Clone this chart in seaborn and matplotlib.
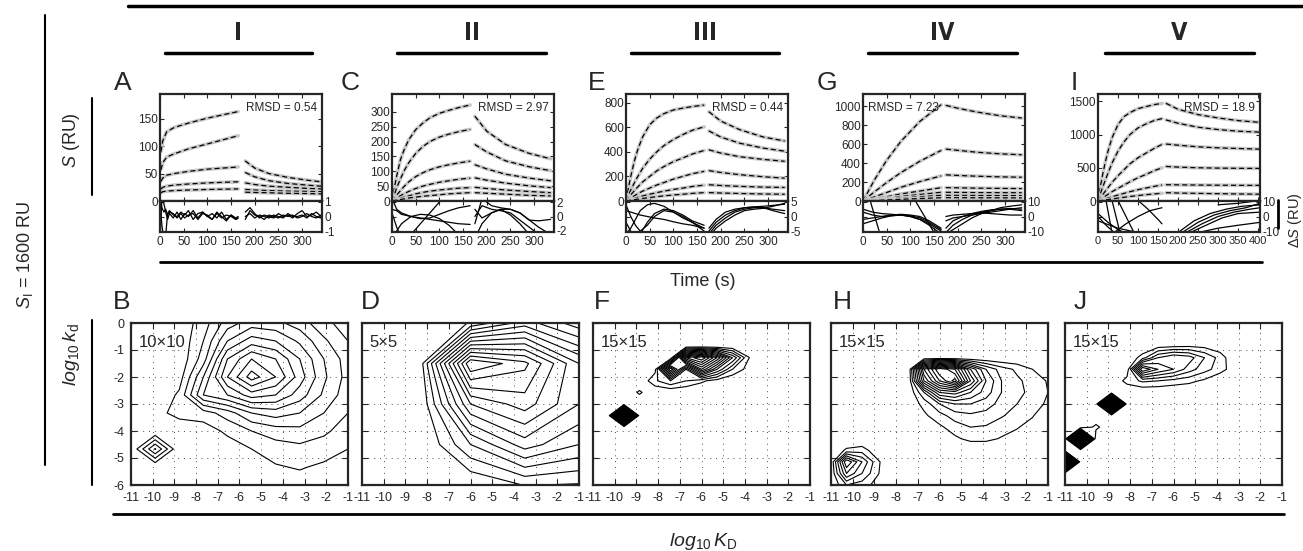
import matplotlib
matplotlib.use("Agg")
import matplotlib.pyplot as plt
import numpy as np
import seaborn as sns

W, H = 1303, 551

# ---------------- sensorgrams (RU), association then dissociation ----------------
A_t_on = [2, 6, 14, 30, 60, 100, 165]
A_on = [[90, 110, 126, 134, 142, 151, 163],
        [57, 70, 80, 86, 95, 104, 119],
        [36, 42, 47, 50, 54, 58, 62],
        [22, 25, 27, 29, 31, 33, 35],
        [15, 17, 18, 19, 20, 21, 22]]
A_t_off = [180, 200, 230, 270, 310, 340]
A_off = [[73, 60, 50, 43, 38, 35],
         [52, 44, 37, 32, 29, 27],
         [33, 30, 27, 25, 23, 22],
         [21, 20, 19, 18, 17.5, 17],
         [16, 15.5, 15, 14, 13.5, 13]]

C_t_on = [0, 5, 10, 18, 25, 35, 50, 65, 80, 100, 120, 140, 165]
C_on = [[0, 45, 85, 140, 170, 205, 240, 262, 280, 295, 305, 314, 323],
        [0, 22, 45, 75, 100, 128, 160, 183, 200, 215, 225, 233, 241],
        [0, 10, 20, 35, 48, 64, 82, 95, 105, 115, 122, 128, 134],
        [0, 5, 10, 18, 24, 32, 42, 50, 56, 63, 68, 73, 77],
        [0, 2.5, 5, 9, 13, 17, 24, 29, 33, 37, 40, 43, 45],
        [0, 1.5, 3, 5, 7, 10, 13, 16, 18, 21, 24, 26, 28]]
C_t_off = [175, 200, 240, 290, 335]
C_off = [[285, 235, 190, 160, 142],
         [190, 165, 135, 115, 102],
         [122, 108, 90, 77, 68],
         [78, 70, 60, 51, 45],
         [46, 42, 37, 32, 28],
         [28, 26, 23, 19, 17]]

E_t_on = [0, 5, 10, 18, 25, 35, 50, 65, 80, 100, 120, 140, 165]
E_on = [[0, 105, 200, 330, 420, 520, 620, 675, 710, 740, 755, 768, 780],
        [0, 45, 90, 150, 200, 265, 340, 400, 450, 500, 540, 575, 603],
        [0, 25, 50, 85, 115, 155, 200, 245, 280, 320, 350, 382, 411],
        [0, 12, 25, 43, 60, 80, 105, 130, 150, 178, 200, 222, 241],
        [0, 6, 12, 21, 30, 41, 55, 68, 80, 94, 105, 118, 129],
        [0, 3, 6, 11, 15, 21, 28, 35, 42, 49, 55, 62, 68]]
E_t_off = [175, 200, 240, 290, 335]
E_off = [[726, 650, 580, 520, 488],
         [570, 520, 470, 430, 405],
         [416, 390, 360, 338, 323],
         [247, 232, 214, 197, 186],
         [132, 126, 119, 113, 110],
         [68, 65, 61, 57, 55]]

G_t_on = [0, 25, 50, 80, 120, 165]
G_on = [[0, 230, 430, 630, 840, 1017],
        [0, 100, 195, 300, 420, 534],
        [0, 45, 90, 145, 205, 265],
        [0, 22, 45, 75, 105, 141],
        [0, 14, 29, 48, 69, 92],
        [0, 9, 19, 31, 45, 60],
        [0, 5, 11, 18, 26, 35]]
G_t_off = [175, 200, 240, 290, 335]
G_off = [[1010, 980, 940, 900, 876],
         [548, 535, 515, 498, 488],
         [276, 270, 262, 255, 251],
         [141, 139, 136, 133, 131],
         [92, 91, 89, 88, 87],
         [60, 59, 58, 57, 57],
         [35, 35, 34, 34, 33]]

I_t_on = [0, 5, 10, 18, 25, 35, 50, 65, 80, 100, 120, 140, 160]
I_on = [[0, 180, 350, 580, 750, 950, 1150, 1270, 1330, 1390, 1420, 1450, 1469],
        [0, 90, 180, 310, 420, 570, 750, 890, 1000, 1100, 1160, 1210, 1240],
        [0, 40, 80, 145, 200, 280, 380, 470, 560, 650, 720, 790, 852],
        [0, 20, 40, 72, 100, 140, 190, 240, 290, 350, 400, 455, 500],
        [0, 9, 18, 32, 45, 63, 90, 115, 140, 170, 195, 220, 240],
        [0, 4, 8, 15, 22, 31, 44, 56, 68, 82, 95, 106, 117]]
I_t_off = [170, 200, 250, 300, 350, 405]
I_off = [[1470, 1380, 1300, 1250, 1210, 1183],
         [1220, 1170, 1110, 1075, 1050, 1036],
         [857, 840, 815, 800, 790, 780],
         [520, 510, 500, 495, 492, 490],
         [245, 243, 240, 238, 236, 235],
         [125, 120, 115, 110, 106, 102]]

# ---------------- residuals (RU) ----------------
A_res_t_on = [0, 4, 8, 12, 16, 20, 28, 36, 44, 52, 60, 70, 80, 90, 100, 110, 120, 130, 140, 150, 160, 165]
A_res_on = [[-1.5, 1.2, 0.9, 0.3, -0.2, 0.2, -0.1, 0.3, -0.2, 0.2, 0.0, 0.4, -0.1, 0.3, 0.0, -0.2, 0.3, 0.0, -0.3, 0.1, -0.2, -0.1],
            [0.9, -0.6, -1.5, -1.3, 0.2, 0.4, 0.1, 0.0, 0.3, 0.1, 0.4, -0.2, 0.2, 0.3, 0.0, 0.2, -0.1, 0.3, -0.2, 0.1, -0.1, 0.0],
            [1.2, 0.6, 0.3, 0.5, 0.1, 0.3, 0.2, -0.1, 0.2, -0.1, 0.1, 0.2, -0.2, 0.2, 0.1, -0.2, 0.2, -0.1, 0.1, 0.0, -0.2, -0.1]]
A_res_t_off = [180, 190, 200, 210, 220, 230, 240, 250, 260, 270, 280, 290, 300, 310, 320, 330, 340]
A_res_off = [[0.3, 0.6, 0.2, -0.1, 0.1, 0.0, -0.1, 0.2, 0.0, 0.1, -0.1, 0.2, 0.4, 0.0, 0.1, 0.3, 0.0],
             [-0.2, 0.4, 0.1, 0.0, -0.2, 0.1, 0.0, -0.1, 0.1, 0.0, 0.1, -0.1, 0.0, 0.2, 0.0, -0.1, 0.1],
             [0.0, 0.2, -0.1, 0.1, 0.0, -0.1, 0.1, 0.0, -0.1, 0.2, 0.0, 0.0, 0.1, -0.1, 0.2, 0.0, -0.1]]

C_res_t_on = [0, 10, 20, 40, 60, 80, 100, 120, 140, 165]
C_res_on = [[2.5, 1.0, 0.5, 0.0, -0.3, -0.2, 0.3, 0.8, 1.2, 1.5],
            [1.0, 0.8, 0.3, 0.0, -0.2, -0.4, -0.6, -0.8, -1.0, -1.1],
            [-3.0, -2.0, -1.0, 0.0, 0.3, 0.2, -0.3, -1.2, -2.5, -3.5],
            [0.5, -1.5, -3.0, -2.5, -1.0, 0.5, 2.0, 3.0, 3.0, 3.0]]
C_res_t_off = [175, 190, 210, 230, 250, 270, 290, 310, 335]
C_res_off = [[-1.0, 2.5, 1.5, 1.2, 1.0, 0.5, -0.5, -1.5, -2.5],
             [0.0, 1.5, 1.0, 0.8, 0.5, -0.5, -1.5, -2.5, -3.0],
             [-3.0, -1.0, 0.5, 1.0, 0.2, -1.0, -2.5, -3.5, -4.0],
             [1.0, -0.2, 0.5, 1.0, 1.0, 0.5, -0.5, -0.6, -0.4]]

E_res_t_on = [0, 10, 20, 30, 45, 60, 80, 100, 120, 140, 165]
E_res_on = [[2.0, 1.5, 1.0, 0.5, 0.0, -0.5, -1.0, -1.8, -2.5, -3.0, -4.0],
            [-6.0, -4.0, -1.0, 2.0, 4.0, 4.5, 3.5, 1.5, -0.5, -2.0, -4.0],
            [4.0, 0.0, -3.0, -5.0, -3.0, 0.0, 2.0, 1.5, 0.0, -2.0, -5.0],
            [-2.0, -5.0, -7.0, -6.0, -2.0, 1.0, 2.5, 2.0, 0.5, -1.5, -3.0]]
E_res_t_off = [175, 190, 210, 230, 250, 270, 290, 310, 335]
E_res_off = [[-5.0, -2.0, 0.5, 2.0, 3.0, 3.3, 3.5, 3.8, 4.2],
             [-6.0, -3.0, -0.5, 1.5, 2.5, 3.0, 3.0, 2.5, 2.0],
             [-4.0, -1.0, 1.5, 2.5, 3.0, 3.2, 3.0, 2.0, 1.0],
             [-7.0, -4.0, -1.5, 0.5, 2.0, 2.5, 2.8, 3.5, 4.5]]

G_res = [([0, 20, 40, 60, 80, 100, 120, 140, 165], [5, 3, 2, 1.5, 1, 0, -2, -5, -10]),
         ([0, 20, 40, 60, 80, 100, 120, 140, 165], [3, 1, 0, 0.5, 1, 0.5, -1, -4, -9]),
         ([0, 20, 40, 60, 80, 100, 120, 140, 165], [-2, -1, 0, 1, 1.5, 1, 0, -3, -8]),
         ([0, 20, 40, 60, 80, 100, 120, 140, 165], [-5, -3, -1, 0.5, 1, 0, -2, -6, -12]),
         ([15, 35], [11, -11]),
         ([110, 150], [11, -11]),
         ([175, 190, 210, 230, 250, 270, 290, 310, 335], [-11, -6, -2, 1, 3, 4, 5, 5, 4]),
         ([175, 190, 210, 230, 250, 270, 290, 310, 335], [-8, -3, 0, 2, 3.5, 4.5, 5, 5.5, 5]),
         ([175, 190, 210, 230, 250, 270, 290, 310, 335], [-12, -9, -5, -1, 2, 4, 6, 7, 8]),
         ([175, 190, 210, 230, 250, 270, 290, 310, 335], [0, 1, 1.5, 2, 2.5, 2, 1.5, 1, 1]),
         ([175, 190, 210, 230, 250, 270, 290, 310, 335], [-3, -1, 0, 1, 2, 3, 4, 5, 6])]

I_res = [([0, 25, 50, 75], [2, -4, -9, -12]),
         ([0, 20, 45], [0, -6, -12]),
         ([20, 35], [11, -11]),
         ([35, 55], [11, -11]),
         ([50, 70, 90], [11, 0, -11]),
         ([40, 70, 100, 130, 160], [-11, -5, 0, 4, 6]),
         ([100, 125, 150, 160], [11, 5, -2, -5]),
         ([0, 50, 100], [-3, -8, -11]),
         ([200, 240, 280, 320, 360, 405], [-11, -3, 2, 5, 7, 8]),
         ([210, 250, 290, 330, 370, 405], [-11, -4, 1, 4, 6, 9]),
         ([220, 260, 300, 340, 380, 405], [-11, -5, 0, 3, 5, 6]),
         ([230, 270, 310, 350, 405], [-11, -6, -1, 2, 3]),
         ([250, 300, 350, 405], [-11, -8, -6, -4]),
         ([300, 350, 405], [8, 9, 11])]

RMSD = ["RMSD = 0.54", "RMSD = 2.97", "RMSD = 0.44", "RMSD = 7.23", "RMSD = 18.9"]

# ---------------- likelihood landscapes ----------------
B_Z = [[0, 0, 0.3, 1.5, 3.5, 4.5, 4.3, 3.5, 2.3, 1.5],
       [0, 0, 0.2, 2.0, 5.0, 6.5, 6.0, 4.8, 3.2, 2.0],
       [0, 0, 0.2, 2.5, 7.0, 9.0, 8.0, 6.0, 4.0, 2.5],
       [0, 0, 0.5, 4.0, 8.0, 10.5, 9.0, 6.5, 4.2, 2.6],
       [0, 0, 1.2, 5.0, 6.0, 7.5, 7.0, 5.5, 3.8, 2.4],
       [0, 0.5, 1.5, 1.5, 2.5, 4.0, 4.5, 4.0, 3.0, 2.0],
       [0, 0, 0, 0.5, 1.2, 2.0, 2.5, 2.7, 2.2, 1.5],
       [0, 4.1, 0, 0, 0.5, 1.0, 1.5, 1.7, 1.5, 1.0],
       [0, 0, 0, 0, 0, 0.4, 0.9, 1.1, 0.8, 0.5],
       [0, 0, 0, 0, 0, 0, 0.3, 0.5, 0.3, 0.2]]

D_Z = [[-0.5, -0.5, 1.1, 3.5, 1.4],
       [-0.5, -0.5, 12.0, 10.3, 6.0],
       [-0.5, -0.5, 7.0, 8.5, 6.0],
       [-0.5, -0.5, 3.0, 5.5, 4.0],
       [-0.5, -0.5, 0.0, 1.05, 0.9]]

# 15x15 grids: only the non-zero nodes, keyed (row, col)
F_cells = {(3, 6): 12, (3, 7): 14, (3, 8): 10, (3, 9): 5, (3, 10): 1.1,
           (4, 4): 0.6, (4, 5): 10, (4, 6): 3, (4, 7): 9, (4, 8): 5, (4, 9): 2, (4, 10): 0.6,
           (5, 4): 1.8, (5, 5): 3, (5, 6): 2, (5, 7): 1.2, (5, 8): 0.5,
           (6, 3): 1.2,
           (8, 2): 20}
H_cells = {(4, 6): 10, (4, 7): 14, (4, 8): 12, (4, 9): 7, (4, 10): 4, (4, 11): 2.5, (4, 12): 1.8, (4, 13): 1.0,
           (5, 6): 8, (5, 7): 12, (5, 8): 14.5, (5, 9): 9, (5, 10): 5, (5, 11): 3, (5, 12): 2.2, (5, 13): 1.6, (5, 14): 0.9,
           (6, 6): 3, (6, 7): 7, (6, 8): 7.5, (6, 9): 6, (6, 10): 4.5, (6, 11): 3, (6, 12): 2.2, (6, 13): 1.8, (6, 14): 1.0,
           (7, 5): 0.3, (7, 6): 1.3, (7, 7): 3, (7, 8): 4, (7, 9): 4, (7, 10): 3.5, (7, 11): 2.6, (7, 12): 2.0, (7, 13): 1.5, (7, 14): 0.8,
           (8, 6): 0.8, (8, 7): 1.6, (8, 8): 2.5, (8, 9): 2.8, (8, 10): 2.6, (8, 11): 2.1, (8, 12): 1.6, (8, 13): 1.1,
           (9, 7): 0.8, (9, 8): 1.5, (9, 9): 2.0, (9, 10): 1.9, (9, 11): 1.5, (9, 12): 1.1, (9, 13): 0.5,
           (10, 8): 0.8, (10, 9): 1.3, (10, 10): 1.3, (10, 11): 0.9, (10, 12): 0.5,
           (11, 1): 1.2, (11, 2): 1.5, (11, 3): 0.3,
           (12, 1): 7, (12, 2): 4, (12, 3): 1.2,
           (13, 1): 5, (13, 2): 3, (13, 3): 1.1,
           (14, 1): 2, (14, 2): 1.5, (14, 3): 0.6}
J_cells = {(2, 6): 0.6, (2, 7): 0.8, (2, 8): 0.9, (2, 9): 0.7, (2, 10): 0.3,
           (3, 5): 1.5, (3, 6): 4, (3, 7): 5, (3, 8): 4.5, (3, 9): 3, (3, 10): 1.6,
           (4, 4): 0.3, (4, 5): 8, (4, 6): 6, (4, 7): 5, (4, 8): 3.5, (4, 9): 2.4, (4, 10): 1.5, (4, 11): 0.3,
           (5, 4): 1.4, (5, 5): 2.2, (5, 6): 2, (5, 7): 1.6, (5, 8): 1.3, (5, 9): 0.8,
           (7, 3): 20,
           (9, 2): 1.3,
           (10, 1): 18,
           (12, 0): 20}

# ---------------- styling ----------------
sns.set_style("ticks")
plt.rcParams["font.family"] = ["Liberation Sans", "DejaVu Sans"]
plt.rcParams["axes.unicode_minus"] = False
plt.rcParams["axes.linewidth"] = 1.6
plt.rcParams["mathtext.fontset"] = "custom"
plt.rcParams["mathtext.it"] = "Liberation Sans:italic"
plt.rcParams["mathtext.rm"] = "Liberation Sans"

fig = plt.figure(figsize=(W / 100, H / 100), dpi=100)


def box(x, y, w, h):
    return [x / W, 1 - (y + h) / H, w / W, h / H]


def hline(x0, x1, y, lw=2.0):
    fig.add_artist(plt.Line2D([x0 / W, x1 / W], [1 - y / H, 1 - y / H],
                              color="k", lw=lw, transform=fig.transFigure))


def vline(x, y0, y1, lw=1.5):
    fig.add_artist(plt.Line2D([x / W, x / W], [1 - y0 / H, 1 - y1 / H],
                              color="k", lw=lw, transform=fig.transFigure))


def label(x, y, s, **kw):
    fig.text(x / W, 1 - y / H, s, ha=kw.pop("ha", "center"), va=kw.pop("va", "center"), **kw)


def trace(ax, t, v):
    # grey measured curve with the black dashed fit on top
    sns.lineplot(x=t, y=v, ax=ax, color="#c8c8c8", lw=2.6, estimator=None, sort=False)
    sns.lineplot(x=t, y=v, ax=ax, color="k", lw=0.9, linestyle=(0, (4, 2.5)),
                 estimator=None, sort=False)


def sensorgram(left, t_on, on, t_off, off, ylim, yticks, res, rlim, rticks,
               xmax, xticks, rmsd, rmsd_left=False, xsize=8.5):
    ax = fig.add_axes(box(left, 94, 162, 107))
    rx = fig.add_axes(box(left, 201, 162, 31))
    for v in on:
        trace(ax, t_on, v)
    for v in off:
        trace(ax, t_off, v)
    for t, v in res:
        sns.lineplot(x=t, y=v, ax=rx, color="k", lw=0.9, estimator=None, sort=False)
    ax.set_xlim(0, xmax)
    ax.set_ylim(*ylim)
    ax.set_xticks(xticks)
    ax.set_yticks(yticks)
    ax.tick_params(direction="in", top=True, right=True, labelbottom=False,
                   labelsize=8.5, length=3, width=0.8, pad=1.5)
    rx.set_xlim(0, xmax)
    rx.set_ylim(-rlim, rlim)
    rx.set_xticks(xticks)
    rx.set_yticks(rticks)
    rx.tick_params(direction="in", top=True, right=True, left=True, labelleft=False,
                   labelright=True, labelsize=8.5, length=3, width=0.8, pad=1.5)
    rx.tick_params(axis="x", labelsize=xsize, pad=3)
    if rmsd_left:
        ax.text(0.03, 0.87, rmsd, transform=ax.transAxes, ha="left", va="center", fontsize=8.5)
    else:
        ax.text(0.97, 0.87, rmsd, transform=ax.transAxes, ha="right", va="center", fontsize=8.5)


def landscape(left, Z, grid_label, show_y=False):
    Z = np.asarray(Z, dtype=float)
    ny, nx = Z.shape
    xs = np.linspace(-11, -1, nx)
    ys = np.linspace(0, -6, ny)
    ax = fig.add_axes(box(left, 323, 217, 162))
    ax.contour(xs, ys, Z, levels=np.arange(1, 21), colors="k", linewidths=0.8)
    ax.set_xlim(-11, -1)
    ax.set_ylim(-6, 0)
    ax.set_xticks(range(-11, 0))
    ax.set_yticks(range(-6, 1))
    ax.grid(True, linestyle=(0, (1, 5)), color="0.3", lw=0.7)
    ax.tick_params(direction="in", top=True, right=True, labelleft=show_y,
                   labelsize=9, length=4, width=0.8)
    ax.tick_params(axis="x", pad=5)
    ax.tick_params(axis="y", pad=5)
    ax.text(0.035, 0.88, grid_label, transform=ax.transAxes, ha="left", va="center", fontsize=12)


def grid15(cells):
    Z = np.zeros((15, 15))
    for (r, c), v in cells.items():
        Z[r, c] = v
    return Z


ticks340 = list(range(0, 301, 50))
A_res = [(A_res_t_on, r) for r in A_res_on] + [(A_res_t_off, r) for r in A_res_off]
C_res = [(C_res_t_on, r) for r in C_res_on] + [(C_res_t_off, r) for r in C_res_off]
E_res = [(E_res_t_on, r) for r in E_res_on] + [(E_res_t_off, r) for r in E_res_off]

sensorgram(160, A_t_on, A_on, A_t_off, A_off, (0, 195), [0, 50, 100, 150],
           A_res, 1.05, [-1, 0, 1], 342, ticks340, RMSD[0])
sensorgram(392, C_t_on, C_on, C_t_off, C_off, (0, 360), list(range(0, 301, 50)),
           C_res, 2.15, [-2, 0, 2], 342, ticks340, RMSD[1])
sensorgram(626, E_t_on, E_on, E_t_off, E_off, (0, 870), list(range(0, 801, 200)),
           E_res, 5.3, [-5, 0, 5], 342, ticks340, RMSD[2])
sensorgram(863, G_t_on, G_on, G_t_off, G_off, (0, 1130), list(range(0, 1001, 200)),
           G_res, 10.6, [-10, 0, 10], 342, ticks340, RMSD[3], rmsd_left=True)
sensorgram(1098, I_t_on, I_on, I_t_off, I_off, (0, 1610), [0, 500, 1000, 1500],
           I_res, 10.6, [-10, 0, 10], 405, list(range(0, 401, 50)), RMSD[4], xsize=8)

landscape(131, B_Z, "10×10", show_y=True)
landscape(362, D_Z, "5×5")
landscape(593, grid15(F_cells), "15×15")
landscape(831, grid15(H_cells), "15×15")
landscape(1065, grid15(J_cells), "15×15")

# ---------------- annotations ----------------
hline(128, 1303, 6, lw=2.5)
for x0, x1, txt in [(165, 312, "I"), (397, 546, "II"), (631, 779, "III"),
                    (868, 1017, "IV"), (1105, 1254, "V")]:
    hline(x0, x1, 53, lw=2.5)
    label((x0 + x1) / 2, 33, txt, fontsize=17, fontweight="bold", fontstretch="condensed",
          family=["Liberation Sans Narrow", "DejaVu Sans"])

for x, y, s in [(123, 83, "A"), (350, 83, "C"), (597, 83, "E"), (827, 83, "G"), (1074, 83, "I"),
                (122, 302, "B"), (370, 302, "D"), (602, 302, "F"), (842, 302, "H"), (1080, 302, "J")]:
    label(x, y, s, fontsize=19)

hline(160, 1262, 262, lw=2.0)
label(703, 281, "Time (s)", fontsize=13)
hline(113, 1284, 514, lw=2.0)
label(703, 541, r"$\mathit{log}_{10}\,\mathit{K}_{\mathrm{D}}$", fontsize=14)

vline(45, 15, 465)
label(25, 255, r"$\mathit{S}_{\mathrm{I}}$ = 1600 RU", fontsize=13, rotation=90)
vline(92, 98, 195)
label(72, 140, r"$\mathit{S}$ (RU)", fontsize=13, rotation=90)
vline(92, 320, 485)
label(72, 355, r"$\mathit{log}_{10}\,\mathit{k}_{\mathrm{d}}$", fontsize=14, rotation=90)
vline(1278, 200, 228, lw=2.0)
label(1295, 220, r"Δ$\mathit{S}$ (RU)", fontsize=10.5, rotation=90)

fig.savefig("out.png", dpi=100)
